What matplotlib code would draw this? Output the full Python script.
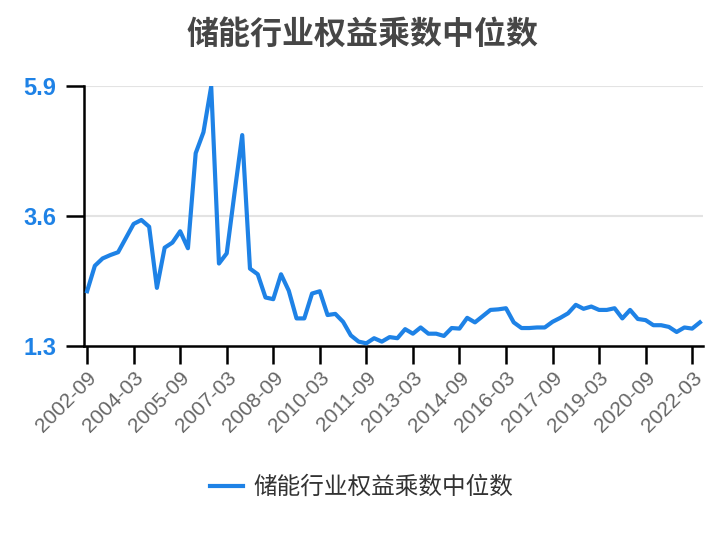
import matplotlib
matplotlib.use("Agg")
import matplotlib.pyplot as plt

plt.rcParams['font.family'] = ['Noto Sans CJK SC', 'DejaVu Sans']

# quarterly periods, 2002-09 .. 2022-06
quarters = []
for yr in range(2002, 2023):
    for m in ("03", "06", "09", "12"):
        quarters.append(f"{yr}-{m}")
quarters = quarters[quarters.index("2002-09"):quarters.index("2022-06") + 1]

values = [
    2.27, 2.72, 2.85, 2.91, 2.96, 3.21, 3.46, 3.53, 3.41, 2.33,
    3.04, 3.13, 3.33, 3.03, 4.71, 5.08, 5.89, 2.76, 2.94, 4.00,
    5.03, 2.67, 2.57, 2.16, 2.13, 2.57, 2.28, 1.79, 1.79, 2.23,
    2.27, 1.85, 1.87, 1.73, 1.49, 1.38, 1.35, 1.44, 1.38, 1.46,
    1.44, 1.60, 1.52, 1.63, 1.52, 1.52, 1.48, 1.62, 1.61, 1.80,
    1.72, 1.83, 1.94, 1.95, 1.97, 1.72, 1.62, 1.62, 1.63, 1.63,
    1.73, 1.80, 1.88, 2.03, 1.96, 2.00, 1.94, 1.94, 1.97, 1.79,
    1.94, 1.78, 1.76, 1.67, 1.67, 1.64, 1.55, 1.63, 1.61, 1.72,
]

y_ticks = [1.3, 3.6, 5.9]
title = "储能行业权益乘数中位数"
series_name = "储能行业权益乘数中位数"

blue = "#1e82e6"

fig = plt.figure(figsize=(7.24, 5.4), dpi=100)
ax = fig.add_axes([0.116, 0.359, 0.855, 0.482])

x = list(range(len(quarters)))
ax.plot(x, values, color=blue, lw=3, solid_joinstyle='round', label=series_name, zorder=3)

ax.set_xlim(-0.4, len(quarters) - 0.6)
ax.set_ylim(y_ticks[0], y_ticks[-1])
ax.set_yticks(y_ticks)
ax.set_yticklabels([f"{v:.1f}" for v in y_ticks], color=blue, fontsize=17,
                   fontweight='bold', family=['Liberation Sans'])
ax.tick_params(axis='y', length=13, width=1.8, color='black', pad=7)

tick_idx = list(range(0, len(quarters), 6))
ax.set_xticks(tick_idx)
ax.set_xticklabels([quarters[i] for i in tick_idx], rotation=45, ha='right',
                   rotation_mode='anchor', color='#666666', fontsize=15,
                   family=['Liberation Sans'])
ax.tick_params(axis='x', length=13, width=1.8, color='black', pad=3)

for v in y_ticks[1:]:
    ax.axhline(v, color='#e3e3e3', lw=1.5, zorder=1)

for s in ('top', 'right'):
    ax.spines[s].set_visible(False)
for s in ('left', 'bottom'):
    ax.spines[s].set_linewidth(1.8)
    ax.spines[s].set_color('black')

fig.text(0.5, 0.935, title, ha='center', va='center', fontsize=23,
         fontweight='bold', color='#464646')

leg = fig.legend(loc='center', bbox_to_anchor=(0.5, 0.097), frameon=False,
                 fontsize=17, handlelength=1.4, handletextpad=0.45)
for t in leg.get_texts():
    t.set_color('#333333')

fig.savefig("out.png", dpi=100)
